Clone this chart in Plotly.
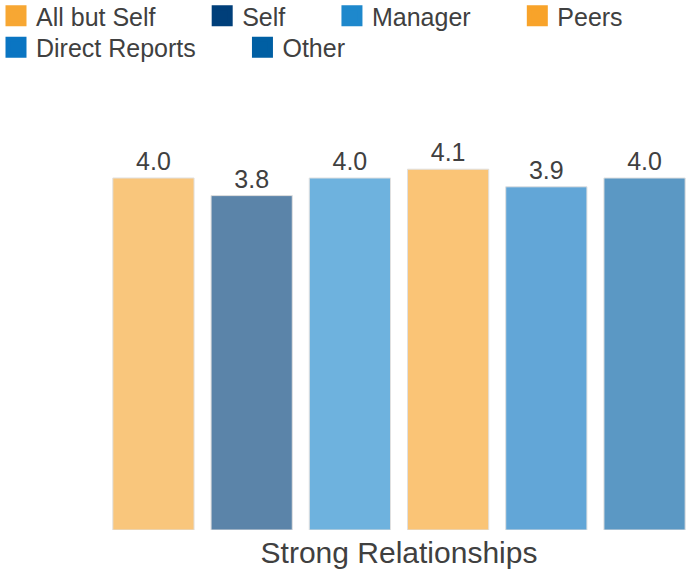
import plotly.graph_objects as go

category = ["Strong Relationships"]
series = ["All but Self", "Self", "Manager", "Peers", "Direct Reports", "Other"]
values = [4.0, 3.8, 4.0, 4.1, 3.9, 4.0]
colors = ["#F7A733", "#003F7A", "#1E88CC", "#F8A32A", "#0A75C2", "#005FA3"]
legend_rows = ["legend", "legend", "legend", "legend", "legend2", "legend2"]

PAD = "\u00a0" * 6
TXT = "#404040"
FONT = "Arial, 'Liberation Sans', sans-serif"

fig = go.Figure()
for name, v, c in zip(series, values, colors):
    fig.add_trace(go.Bar(
        x=category, y=[v], name=name, showlegend=False, legendgroup=name,
        marker=dict(color=c, opacity=0.64, line=dict(color="#cfcfcf", width=1)),
        texttemplate="%{y:.1f}", textposition="outside", cliponaxis=False,
        textfont=dict(size=25, color=TXT, family=FONT),
    ))
for name, c, lg in zip(series, colors, legend_rows):
    fig.add_trace(go.Scatter(
        x=[None], y=[None], name=name + PAD, legendgroup=name, legend=lg,
        mode="markers", showlegend=True,
        marker=dict(symbol="square", size=16, color=c, line=dict(color=c, width=5)),
    ))

L, T, B, W, H = 112, 90, 41, 686, 571
PW, PH = W - L, H - T - B
leg_x = (-4 - L) / PW
leg_common = dict(orientation="h", font=dict(size=25, color=TXT, family=FONT),
                  bgcolor="rgba(0,0,0,0)", xref="paper", yref="paper",
                  x=leg_x, xanchor="left", yanchor="middle")
fig.update_layout(
    width=W, height=H,
    margin=dict(l=L, r=0, t=T, b=B, autoexpand=False),
    paper_bgcolor="white", plot_bgcolor="white",
    barmode="group", bargap=0, bargroupgap=0.173,
    font=dict(family=FONT, color=TXT),
    legend=dict(**leg_common, y=(H - B - 16) / PH),
    legend2=dict(**leg_common, y=(H - B - 47.5) / PH),
    xaxis=dict(range=[-0.487, 0.487], showgrid=False, zeroline=False, showline=False,
               ticks="", ticklabelstandoff=2,
               tickfont=dict(size=30, color=TXT, family=FONT), automargin=False),
    yaxis=dict(range=[0, 5], visible=False, showgrid=False, zeroline=False),
)
fig.write_html(
    "out.html",
    config={"displayModeBar": False},
    post_script="document.body.style.margin='0';document.body.style.overflow='hidden';",
)
